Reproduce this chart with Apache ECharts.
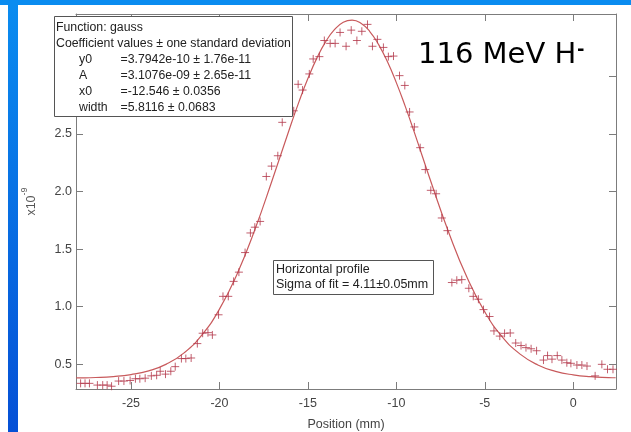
<!DOCTYPE html>
<html>
<head>
<meta charset="utf-8">
<script src="https://cdn.jsdelivr.net/npm/echarts@6/dist/echarts.min.js"></script>
<style>
html,body{margin:0;padding:0;background:#fff;}
#c{width:631px;height:432px;}
</style>
</head>
<body>
<div id="c"></div>
<script>
// Measured profile points (position in mm, signal in units of 1e-9)
const posX = [-27.85,-27.6,-27.35,-26.9,-26.6,-26.35,-26.1,-25.7,-25.4,-25.05,-24.75,-24.5,-24.2,-23.85,-23.55,-23.35,-23.05,-22.75,-22.5,-22.15,-21.9,-21.6,-21.25,-20.95,-20.65,-20.4,-20.05,-19.8,-19.5,-19.2,-18.9,-18.55,-18.25,-18.0,-17.7,-17.35,-17.05,-16.7,-16.45,-15.8,-15.55,-15.3,-14.92,-14.7,-14.35,-14.07,-13.74,-13.46,-13.18,-12.84,-12.55,-12.23,-11.95,-11.63,-11.35,-11.07,-10.73,-10.45,-10.16,-9.82,-9.52,-9.25,-8.98,-8.65,-8.36,-8.05,-7.75,-7.43,-7.11,-6.86,-6.58,-6.3,-5.9,-5.65,-5.36,-5.07,-4.73,-4.48,-4.15,-3.88,-3.56,-3.25,-2.95,-2.67,-2.38,-2.07,-1.68,-1.45,-1.2,-0.9,-0.64,-0.36,-0.13,0.21,0.49,0.78,1.24,1.62,1.94,2.25];
const posY = [0.335,0.335,0.335,0.32,0.32,0.32,0.31,0.355,0.355,0.36,0.375,0.375,0.38,0.40,0.405,0.44,0.415,0.44,0.48,0.55,0.55,0.555,0.68,0.77,0.775,0.755,0.93,1.09,1.09,1.22,1.30,1.47,1.64,1.69,1.74,2.13,2.22,2.31,2.60,2.70,2.93,2.88,3.02,3.15,3.17,3.31,3.285,3.285,3.38,3.26,3.40,3.31,3.39,3.45,3.26,3.32,3.25,3.17,3.175,3.005,2.92,2.69,2.56,2.38,2.19,2.01,1.98,1.77,1.66,1.21,1.23,1.235,1.16,1.09,1.065,0.975,0.915,0.79,0.745,0.769,0.772,0.685,0.663,0.645,0.635,0.618,0.537,0.576,0.545,0.576,0.537,0.514,0.509,0.494,0.494,0.485,0.40,0.50,0.457,0.457];

// Fitted gauss curve, sampled values
const fitX = [-28.1,-28,-27,-26,-25,-24,-23,-22,-21,-20,-19,-18,-17,-16,-15.5,-15,-14.5,-14,-13.5,-13,-12.5,-12,-11.5,-11,-10.5,-10,-9.5,-9,-8,-7,-6,-5,-4,-3,-2,-1,0,1,2,2.4];
const fitY = [0.3818,0.3821,0.3858,0.3940,0.4109,0.4433,0.5016,0.5997,0.7539,0.9792,1.2847,1.6674,2.1066,2.5622,2.7795,2.9795,3.1549,3.2984,3.4044,3.4681,3.4868,3.4597,3.3880,3.2747,3.1248,2.9443,2.7406,2.5211,2.0647,1.6294,1.2532,0.9551,0.7370,0.5886,0.4948,0.4394,0.4088,0.3930,0.3853,0.3836];

// Axis ticks
const xTicks = [-25,-20,-15,-10,-5,0];
const yTicks = [0.5,1.0,1.5,2.0,2.5,3.0];

// Fit annotation
const coefNames = ['y0','A','x0','width'];
const coefValues = ['=3.7942e-10 \u00b1 1.76e-11','=3.1076e-09 \u00b1 2.65e-11','=-12.546 \u00b1 0.0356','=5.8116 \u00b1 0.0683'];

const chart = echarts.init(document.getElementById('c'), null, {renderer:'canvas'});
const axisColor = '#7c7c7c';
const labelFont = {fontFamily:'Liberation Sans, Arial, sans-serif', fontSize:12.5, color:'#444'};
const scatterData = posX.map((x,i)=>[x,posY[i]]);
const fitData = fitX.map((x,i)=>[x,fitY[i]]);

const txt = (x,y,s,size,extra) => Object.assign({type:'text', x:x, y:y, z:101,
  style:Object.assign({text:s, fill:'#222', font:(size||12.3)+'px "Liberation Sans", Arial, sans-serif', verticalAlign:'middle'}, extra||{})});

const box1 = [
  {type:'rect', z:100, shape:{x:54.5,y:16.5,width:238,height:100}, style:{fill:'#fff', stroke:'#555', lineWidth:1}},
  txt(56,27.5,'Function: gauss'),
  txt(56,43.5,'Coefficient values \u00b1 one standard deviation')
];
coefNames.forEach((n,i)=>{
  box1.push(txt(79,60+i*15.8,n));
  box1.push(txt(120.5,60+i*15.8,coefValues[i]));
});

const box2 = [
  {type:'rect', z:100, shape:{x:273.5,y:260.5,width:160,height:34}, style:{fill:'#fff', stroke:'#555', lineWidth:1}},
  txt(276,269.5,'Horizontal profile',12.5),
  txt(276,285,'Sigma of fit = 4.11\u00b10.05mm',12.5)
];

chart.setOption({
  animation:false,
  backgroundColor:'#fff',
  grid:{left:76,right:15,top:14,bottom:43,containLabel:false,outerBoundsMode:'none'},
  xAxis:[{
    type:'value', position:'bottom', min:-28.11, max:2.42,
    axisLine:{show:true,onZero:false,lineStyle:{color:axisColor,width:1}},
    axisTick:{show:true,inside:true,length:7,customValues:xTicks,lineStyle:{color:axisColor}},
    axisLabel:Object.assign({show:true,margin:8,customValues:xTicks,formatter:v=>String(v)},labelFont),
    splitLine:{show:false},
    name:'Position (mm)', nameLocation:'middle', nameGap:29,
    nameTextStyle:{fontFamily:'Liberation Sans, Arial, sans-serif',fontSize:12.5,color:'#444'}
  },{
    type:'value', position:'top', min:-28.11, max:2.42,
    axisLine:{show:true,onZero:false,lineStyle:{color:axisColor,width:1}},
    axisTick:{show:true,inside:true,length:7,customValues:xTicks,lineStyle:{color:axisColor}},
    axisLabel:{show:false}, splitLine:{show:false}
  }],
  yAxis:[{
    type:'value', position:'left', min:0.286, max:3.54,
    axisLine:{show:true,onZero:false,lineStyle:{color:axisColor,width:1}},
    axisTick:{show:true,inside:true,length:7,customValues:yTicks,lineStyle:{color:axisColor}},
    axisLabel:Object.assign({show:true,margin:4,customValues:yTicks,formatter:v=>v.toFixed(1)},labelFont),
    splitLine:{show:false},
    name:'{a|x10}{b|-9}', nameLocation:'middle', nameRotate:90, nameGap:38,
    nameTextStyle:{rich:{
      a:{fontFamily:'Liberation Sans, Arial, sans-serif',fontSize:12.5,color:'#555',lineHeight:18,verticalAlign:'bottom'},
      b:{fontFamily:'Liberation Sans, Arial, sans-serif',fontSize:9,color:'#555',lineHeight:18,verticalAlign:'top'}
    }}
  },{
    type:'value', position:'right', min:0.286, max:3.54,
    axisLine:{show:true,onZero:false,lineStyle:{color:axisColor,width:1}},
    axisTick:{show:true,inside:true,length:7,customValues:yTicks,lineStyle:{color:axisColor}},
    axisLabel:{show:false}, splitLine:{show:false}
  }],
  series:[{
    type:'line', xAxisIndex:0, yAxisIndex:0, data:fitData, smooth:true, symbol:'none',
    lineStyle:{color:'#c85a5c', width:1.2}, z:2
  },{
    type:'scatter', xAxisIndex:0, yAxisIndex:0, data:scatterData,
    symbol:'path://M0,5H10M5,0V10', symbolSize:8,
    itemStyle:{color:'rgba(0,0,0,0)', borderColor:'#b3374a', borderWidth:1}, z:3
  }],
  graphic:[
    {type:'rect', z:100, shape:{x:0,y:0,width:631,height:5}, style:{fill:'#0a8cf0'}},
    {type:'rect', z:100, shape:{x:8,y:5,width:10,height:427}, style:{fill:new echarts.graphic.LinearGradient(0,0,0,1,[{offset:0,color:'#0a8cf0'},{offset:1,color:'#0550d6'}])}},
    ...box1,
    ...box2,
    {type:'text', z:101, x:418, y:55, style:{text:'116 MeV H', fill:'#000', font:'29px "DejaVu Sans", sans-serif', verticalAlign:'middle'}},
    {type:'text', z:101, x:577, y:50, style:{text:'-', fill:'#000', font:'bold 18px "DejaVu Sans", sans-serif', verticalAlign:'middle'}}
  ]
});
</script>
</body>
</html>
